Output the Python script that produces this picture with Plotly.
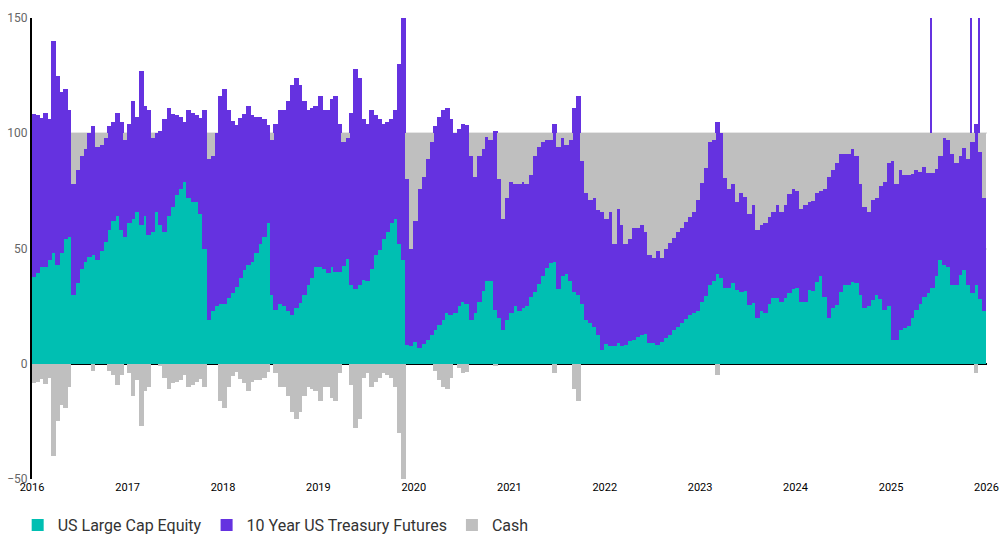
import pandas as pd
import plotly.graph_objects as go

# Semi-monthly allocation snapshots, Jan 2016 - Dec 2025 (24 per year), % of NAV
equity = [
    37.5, 39.5, 42, 42, 45, 48, 43, 48, 54, 55, 30, 35, 41, 44, 46.5, 47, 45, 49, 53, 58, 62, 64, 58, 55,
    61, 63, 66, 60, 64, 56, 57, 66, 60, 57, 64, 68, 73, 76, 79, 72, 70, 70, 65, 50, 19, 23, 25, 26,
    26, 28.5, 30.6, 33.5, 37, 40.5, 43, 44, 48, 52, 55, 61, 30, 23.5, 26, 25, 23, 21, 24, 26.5, 30, 34, 37, 42,
    42, 41, 39.5, 42, 40, 40, 42.5, 45.5, 34, 32.5, 34, 36.5, 36, 41, 47, 49.4, 54, 57, 61, 63, 52, 45, 8, 7.5,
    9.5, 7, 8.5, 10.5, 12.6, 14.7, 17, 19, 22, 21, 22, 25, 27, 26, 19, 22, 27, 31.4, 36, 36, 23.5, 20, 14.5, 19,
    22, 25, 23, 24, 25, 29, 31, 34.5, 38, 41.5, 43.5, 44, 32.5, 38, 39, 36, 31, 30, 26, 19, 17.5, 16, 12.5, 6,
    8.5, 7.5, 7.5, 9, 7.5, 8, 9.7, 10.4, 11.8, 12.6, 13, 9, 9, 8, 9.5, 11, 12.5, 14.5, 16, 17.5, 19.5, 21, 22, 22.7,
    27, 29.5, 34, 35.7, 39, 37, 33, 33, 35, 32, 31, 31.4, 25.6, 26.3, 20, 23, 22, 26, 28.5, 28.5, 27, 28.5, 30.6, 32.5,
    33, 27, 27, 32, 31.5, 35.5, 38, 29, 20, 24, 25.5, 31, 34, 34, 35.5, 35, 30, 24, 25, 27.7, 30, 28, 23.4, 25,
    10.4, 10.5, 14.7, 15.5, 16.5, 20, 23.5, 26, 29, 30.6, 32.8, 38, 45, 43, 42, 34, 34, 38.6, 40.5, 34, 30.6, 34, 28, 23,
]

treasury = [
    71, 68.5, 64.5, 66.7, 61, 92, 82, 70, 65, 55, 48, 49, 49, 49, 53.5, 56, 49, 46, 45, 45, 43, 45, 47, 42,
    43, 51, 41, 67, 48, 54, 41, 34, 41, 49, 47, 40.5, 35, 31, 26, 38, 39, 38, 41.5, 60, 70, 67, 75, 90,
    93, 81.5, 74.9, 70, 69.5, 68, 69, 64, 59, 55, 51, 42.6, 67, 80.5, 84, 85, 91, 100, 100, 94.5, 84, 76, 74, 70,
    74, 69, 70.5, 73, 76, 64, 53.5, 52.5, 75, 95.5, 90, 69.5, 68, 69, 61, 56.6, 50, 48, 45, 47, 78, 105, 72, 42.5,
    52.5, 69, 72.5, 78.5, 83.4, 88.3, 90, 91, 89, 85, 78, 77, 77, 77.6, 71, 59, 63, 61.6, 62.5, 61, 77.5, 60, 48.5, 53,
    57, 53, 55, 55, 53, 53, 59, 59.5, 58, 55.5, 53.5, 60, 61.5, 60, 56, 61, 80, 86, 62, 55, 53.5, 56, 54, 60,
    54.5, 58.5, 44.5, 58, 52.5, 44, 44.3, 48.4, 47, 47.4, 44, 38, 37, 41, 36.5, 39, 40, 40, 41, 41.5, 42, 42.5, 44, 48.3,
    51.5, 55.5, 62, 61.3, 66, 63, 47.5, 43, 43, 38, 43, 41.1, 39.4, 42.7, 38, 37, 39, 37.6, 37.5, 40.5, 39, 40.5, 42.9, 43.5,
    42, 40, 42, 38, 38.9, 38.5, 37, 47, 61, 60, 61.5, 60, 57, 57, 57.5, 55, 48, 44, 41, 43.3, 42, 49, 55.6, 62,
    77.6, 67.5, 69.3, 66.5, 65.5, 62.5, 60.5, 57.4, 56.5, 52.1, 49.9, 46.5, 45, 55, 55, 57, 53, 51.4, 53, 55, 65.4, 70, 64, 49,
]

cash = [
    -8.5, -8, -6.5, -8.7, -6, -40, -25, -18, -19, -10, 22, 16, 10, 7, 0, -3, 6, 5, 2, -3, -5, -9, -5, 3,
    -4, -14, -7, -27, -12, -10, 2, 0, -1, -6, -11, -8.5, -8, -7, -5, -10, -9, -8, -6.5, -10, 11, 10, 0, -16,
    -19, -10, -5.5, -3.5, -6.5, -8.5, -12, -8, -7, -7, -6, -3.6, 3, -4, -10, -10, -14, -21, -24, -21, -14, -10, -11, -12,
    -16, -10, -10, -15, -16, -4, 4, 2, -9, -28, -24, -6, -4, -10, -8, -6, -4, -5, -6, -10, -30, -50, 20, 50,
    38, 24, 19, 11, 4, -3, -7, -10, -11, -6, 0, -2, -4, -3.6, 10, 19, 10, 7, 1.5, 3, -1, 20, 37, 28,
    21, 22, 22, 21, 22, 18, 10, 6, 4, 3, 3, -4, 6, 2, 5, 3, -11, -16, 12, 26, 29, 28, 33.5, 34,
    37, 34, 48, 33, 40, 48, 46, 41.2, 41.2, 40, 43, 53, 54, 51, 54, 50, 47.5, 45.5, 43, 41, 38.5, 36.5, 34, 29,
    21.5, 15, 4, 3, -5, 0, 19.5, 24, 22, 30, 26, 27.5, 35, 31, 42, 40, 39, 36.4, 34, 31, 34, 31, 26.5, 24,
    25, 33, 31, 30, 29.6, 26, 25, 24, 19, 16, 13, 9, 9, 9, 7, 10, 22, 32, 34, 29, 28, 23, 21, 13,
    12, 22, 16, 18, 18, 17.5, 16, 16.6, 14.5, 17.3, 17.3, 15.5, 10, 2, 3, 9, 13, 10, 6.5, 11, 4, -4, 8, 28,
]

# Single-week treasury exposure spikes (beyond chart top)
spike_weeks = ["2025-06-03", "2025-11-04", "2025-12-04"]
spike_exposure = [170, 170, 170]

year_ticks = [str(y) for y in range(2016, 2027)]

period_start = pd.date_range("2016-01-01", periods=len(equity), freq="SMS")
x = period_start + pd.Timedelta(days=7)
DAY_MS = 86400000

TEAL = "#00BFB2"
PURPLE = "#6532E0"
GREY = "#BFBFBF"

fig = go.Figure()
fig.add_trace(go.Bar(x=pd.to_datetime(spike_weeks), y=spike_exposure, width=6 * DAY_MS,
                     marker=dict(color=PURPLE, line=dict(width=0)), showlegend=False,
                     legendgroup="tsy", hoverinfo="skip"))
fig.add_trace(go.Bar(x=x, y=equity, name="US Large Cap Equity", width=18 * DAY_MS,
                     marker=dict(color=TEAL, line=dict(width=0))))
fig.add_trace(go.Bar(x=x, y=treasury, name="10 Year US Treasury Futures", width=18 * DAY_MS,
                     legendgroup="tsy", marker=dict(color=PURPLE, line=dict(width=0))))
fig.add_trace(go.Bar(x=x, y=cash, name="Cash", width=18 * DAY_MS,
                     marker=dict(color=GREY, line=dict(width=0))))

FONT = "Roboto, sans-serif"

fig.update_layout(
    width=1000, height=536,
    barmode="relative", bargap=0,
    margin=dict(l=32, r=13, t=18, b=57, autoexpand=False),
    plot_bgcolor="white", paper_bgcolor="white",
    font=dict(family=FONT, color="#222"),
    legend=dict(orientation="h", x=-0.015, xanchor="left", y=-0.1, yanchor="middle",
                traceorder="normal", font=dict(size=16, color="#333")),
    xaxis=dict(type="date", range=["2016-01-01", "2026-01-03"], automargin=False,
               tickvals=[f"{y}-01-01" for y in year_ticks], ticktext=year_ticks,
               ticklabeloverflow="allow",
               showgrid=False, showline=False, zeroline=False, ticks="",
               tickfont=dict(size=11, color="#000")),
    yaxis=dict(range=[-50, 150], tickvals=[-50, 0, 50, 100, 150], automargin=False,
               showgrid=True, gridcolor="#E6E6E6", gridwidth=2,
               zeroline=True, zerolinecolor="black", zerolinewidth=2,
               showline=True, linecolor="black", linewidth=2, ticks="",
               tickfont=dict(size=12, color="#666")),
)

# remove the browser's default page margin so the 1000x536 figure fills the window exactly
fig.write_html("out.html",
               config={"displayModeBar": False},
               post_script="document.body.style.margin='0';document.body.style.overflow='hidden';")
